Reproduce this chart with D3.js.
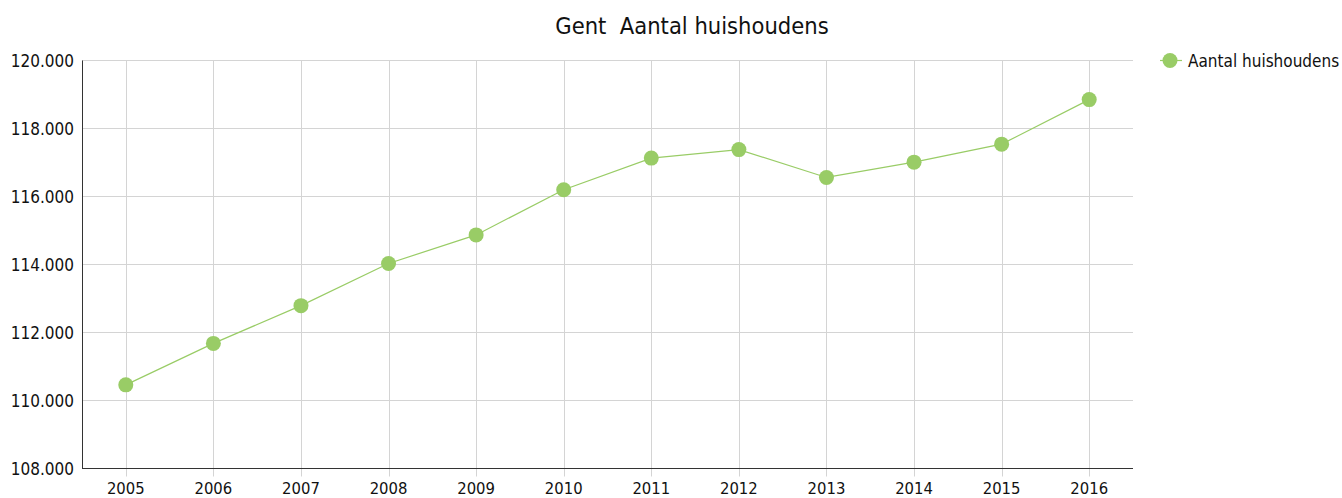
<!DOCTYPE html>
<html>
<head>
<meta charset="utf-8">
<script src="https://d3js.org/d3.v7.min.js"></script>
<style>
body { margin: 0; background: #fff; }
svg text { font-family: "DejaVu Sans Condensed", "DejaVu Sans", sans-serif; font-stretch: condensed; fill: #111; }
</style>
</head>
<body>
<script>
// data
var years = ["2005", "2006", "2007", "2008", "2009", "2010", "2011", "2012", "2013", "2014", "2015", "2016"];
var households = [110460, 111680, 112790, 114030, 114870, 116200, 117130, 117380, 116560, 117010, 117540, 118850];
var yTicks = [108000, 110000, 112000, 114000, 116000, 118000, 120000];

var width = 1342, height = 498;
var plotLeft = 82, plotRight = 1133, plotTop = 60.5, plotBottom = 468.5;
var green = "#99cc66";

var svg = d3.select("body").append("svg")
    .attr("width", width)
    .attr("height", height);

var x = d3.scaleBand().domain(years).range([plotLeft, plotRight]);
var y = d3.scaleLinear().domain([108000, 120000]).range([plotBottom, plotTop]);
var fmt = function(d) { return d3.format(",")(d).replace(/,/g, "."); };
var cx = function(d) { return x(d) + x.bandwidth() / 2; };

// horizontal grid
svg.append("g").selectAll("line").data(yTicks).enter().append("line")
    .attr("x1", plotLeft).attr("x2", plotRight)
    .attr("y1", function(d) { return Math.floor(y(d)) + 0.5; })
    .attr("y2", function(d) { return Math.floor(y(d)) + 0.5; })
    .attr("stroke", "#d4d4d4");

// vertical grid + ticks
svg.append("g").selectAll("line").data(years).enter().append("line")
    .attr("x1", function(d) { return Math.round(cx(d)) + 0.5; })
    .attr("x2", function(d) { return Math.round(cx(d)) + 0.5; })
    .attr("y1", plotTop).attr("y2", plotBottom + 8)
    .attr("stroke", "#d4d4d4");

// axis lines
svg.append("line").attr("x1", plotLeft + 0.5).attr("x2", plotLeft + 0.5)
    .attr("y1", plotTop).attr("y2", plotBottom).attr("stroke", "#333");
svg.append("line").attr("x1", plotLeft).attr("x2", plotRight)
    .attr("y1", plotBottom).attr("y2", plotBottom).attr("stroke", "#333");

// y labels
svg.append("g").selectAll("text").data(yTicks).enter().append("text")
    .attr("x", plotLeft - 8)
    .attr("y", function(d) { return y(d) + 6; })
    .attr("text-anchor", "end")
    .style("font-size", "17px")
    .text(fmt);

// x labels
svg.append("g").selectAll("text").data(years).enter().append("text")
    .attr("x", cx)
    .attr("y", 494)
    .attr("text-anchor", "middle")
    .style("font-size", "16.5px")
    .text(function(d) { return d; });

// line
var pts = years.map(function(d, i) { return [cx(d), y(households[i])]; });
svg.append("path")
    .attr("d", d3.line()(pts))
    .attr("fill", "none")
    .attr("stroke", green)
    .attr("stroke-width", 1.2);

svg.append("g").selectAll("circle").data(pts).enter().append("circle")
    .attr("cx", function(d) { return d[0]; })
    .attr("cy", function(d) { return d[1]; })
    .attr("r", 7.5)
    .attr("fill", green);

// title
svg.append("text")
    .attr("x", 692).attr("y", 34)
    .attr("text-anchor", "middle")
    .style("font-size", "23.5px")
    .style("white-space", "pre")
    .attr("xml:space", "preserve")
    .text("Gent  Aantal huishoudens");

// legend
svg.append("line").attr("x1", 1160).attr("x2", 1182)
    .attr("y1", 60.5).attr("y2", 60.5)
    .attr("stroke", green).attr("stroke-width", 1.2);
svg.append("circle").attr("cx", 1170).attr("cy", 60.5).attr("r", 7.5).attr("fill", green);
svg.append("text")
    .attr("x", 1188).attr("y", 66.5)
    .style("font-size", "17px")
    .text("Aantal huishoudens");
</script>
</body>
</html>
